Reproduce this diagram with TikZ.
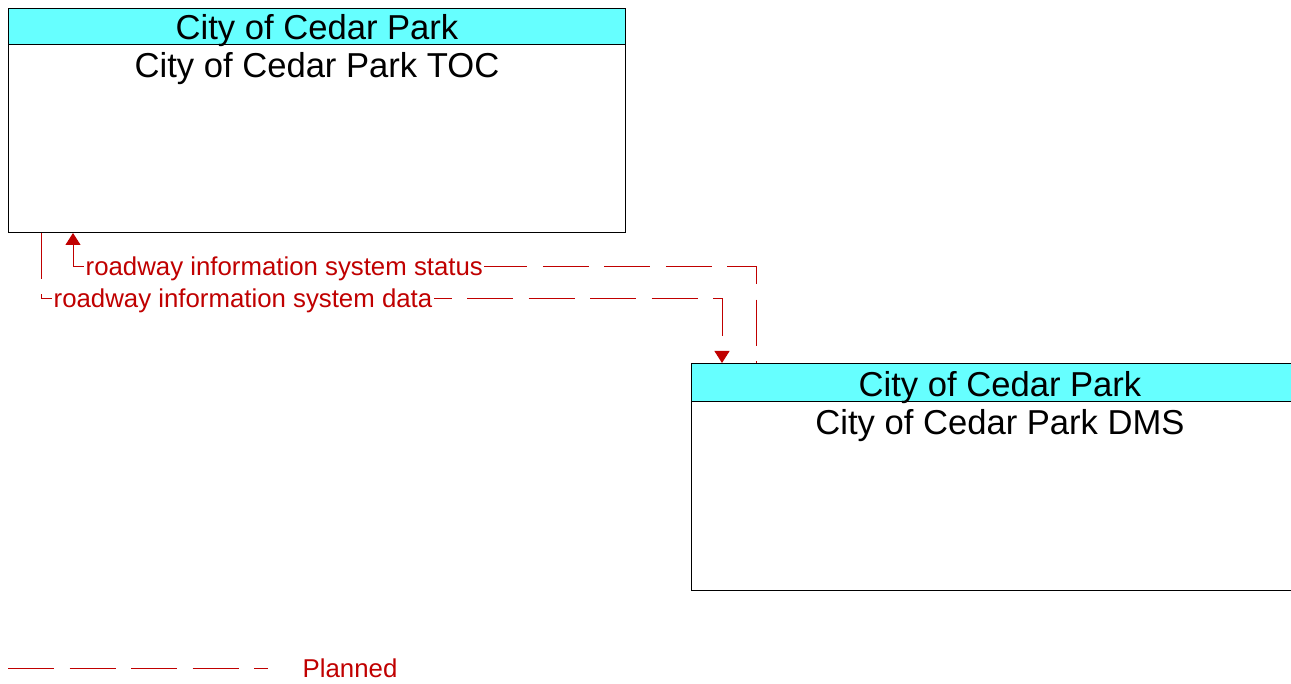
\documentclass[tikz,border=0pt]{standalone}
\usepackage{fontspec}
\setmainfont{Liberation Sans}
\usetikzlibrary{arrows.meta,positioning,calc}
\definecolor{archcyan}{HTML}{66FFFF}
\definecolor{archred}{HTML}{C00000}

\begin{document}
\begin{tikzpicture}[
        x=1pt, y=-1pt,
        sysbox/.style={
          draw,
          line width=1pt,
          minimum width=617pt,
          inner sep=0pt,
          anchor=north west
        },
        hdrbox/.style={
          draw,
          fill=archcyan,
          line width=1pt,
          minimum width=617pt,
          inner sep=0pt,
          anchor=north
        },
        nametext/.style={
          inner sep=0pt,
          anchor=base,
          font=\fontsize{34.6}{40}\selectfont
        },
        flowlabel/.style={
          fill=white,
          inner sep=1.5pt,
          anchor=base west,
          text=archred,
          font=\fontsize{25.8}{30}\selectfont
        },
        flow/.style={
          archred,
          line width=1pt,
          dash pattern=on 46pt off 15.5pt
        },
        flowtip/.tip={Triangle[length=12pt,width=15pt]}
      ]

      \clip (0,0) rectangle (1291,684);

      % subsystems
      \node[sysbox, minimum height=224pt] (toc) at (8,8) {};
      \node[hdrbox, minimum height=36.5pt] (tochdr) at (toc.north) {};
      \node[nametext] (tochdrtext) at ($(toc.north)+(0,32)$) {City of Cedar Park};
      \node[nametext] (tocname) at ($(toc.north)+(0,69.5)$) {City of Cedar Park TOC};

      \node[sysbox, minimum height=227pt] (dms) at (691,363) {};
      \node[hdrbox, minimum height=38.5pt] (dmshdr) at (dms.north) {};
      \node[nametext] (dmshdrtext) at ($(dms.north)+(0,33.5)$) {City of Cedar Park};
      \node[nametext] (dmsname) at ($(dms.north)+(0,72)$) {City of Cedar Park DMS};

      % flows
      \draw[flow, flowtip-] ([xshift=65pt]toc.south west) -- ++(0,34) coordinate (statcorner)
        -| ([xshift=65pt]dms.north west);
      \draw[flow, -flowtip] ([xshift=33pt]toc.south west) -- ++(0,66) coordinate (datacorner)
        -| ([xshift=31pt]dms.north west);
      \node[flowlabel] (statlbl) at ($(statcorner)+(11,9)$) {roadway information system status};
      \node[flowlabel] (datalbl) at ($(datacorner)+(11,9)$) {roadway information system data};

      % legend
      \coordinate (legstart) at (8,668);
      \coordinate (legend) at (268,668);
      \draw[flow] (legstart) -- (legend);
      \node[flowlabel, fill=none] (legtext) at (301,677) {Planned};

      \end{tikzpicture}
\end{document}
